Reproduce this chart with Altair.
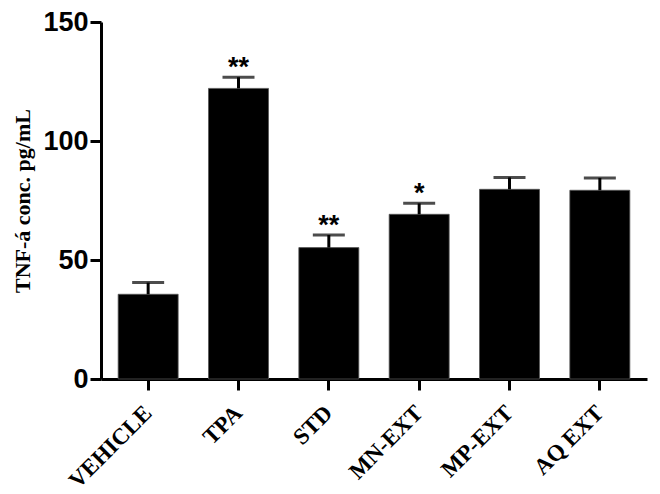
import altair as alt
import pandas as pd

groups = ["VEHICLE", "TPA", "STD", "MN-EXT", "MP-EXT", "AQ EXT"]
means = [35.6, 122.1, 55.2, 69.2, 79.7, 79.3]
errs = [4.9, 4.7, 5.3, 4.6, 5.0, 5.2]
stars = ["", "**", "**", "*", "", ""]

df = pd.DataFrame({
    "group": groups,
    "mean": means,
    "upper": [m + e for m, e in zip(means, errs)],
    "star": stars,
})

x = alt.X(
    "group:N",
    sort=groups,
    title=None,
    scale=alt.Scale(paddingInner=0.336, paddingOuter=0.19),
    axis=alt.Axis(
        labelAngle=-45,
        labelAlign="right",
        labelBaseline="middle",
        labelFont="Liberation Serif",
        labelFontWeight="bold",
        labelFontSize=23,
        labelColor="black",
        labelPadding=19,
        tickSize=11,
        tickWidth=3,
        tickColor="black",
        domainWidth=3,
        domainColor="black",
        grid=False,
    ),
)

y_axis = alt.Axis(
    values=[0, 50, 100, 150],
    labelFont="Liberation Sans",
    labelFontWeight="bold",
    labelFontSize=27,
    labelColor="black",
    labelPadding=2,
    tickSize=11,
    tickWidth=3,
    tickColor="black",
    domainWidth=3,
    domainColor="black",
    grid=False,
    title="TNF-á conc. pg/mL",
    titleFont="Liberation Serif",
    titleFontWeight="bold",
    titleFontSize=22,
    titleColor="black",
    titlePadding=8,
)

y_scale = alt.Scale(domain=[0, 150], nice=False)

base = alt.Chart(df)

bars = base.mark_bar(color="black", stroke="#555555", strokeWidth=0.8).encode(
    x=x,
    y=alt.Y("mean:Q", scale=y_scale, axis=y_axis),
)

stems = base.mark_rule(color="black", strokeWidth=3).encode(
    x=alt.X("group:N", sort=groups),
    y=alt.Y("mean:Q", scale=y_scale),
    y2="upper:Q",
)

caps = base.mark_tick(color="black", orient="horizontal", size=32, thickness=3).encode(
    x=alt.X("group:N", sort=groups),
    y=alt.Y("upper:Q", scale=y_scale),
)

labels = base.mark_text(
    font="Liberation Sans",
    fontWeight="bold",
    fontSize=27,
    color="black",
    baseline="alphabetic",
    dy=-1,
).encode(
    x=alt.X("group:N", sort=groups),
    y=alt.Y("upper:Q", scale=y_scale),
    text="star:N",
)

chart = (
    alt.layer(bars, stems, caps, labels)
    .properties(
        width=546,
        height=357,
        autosize=alt.AutoSizeParams(type="none"),
        padding={"left": 93, "top": 14, "right": 5, "bottom": 115},
        background="white",
    )
    .configure_view(stroke=None)
)

chart.save("out.html", embed_options={"renderer": "svg", "actions": False})
